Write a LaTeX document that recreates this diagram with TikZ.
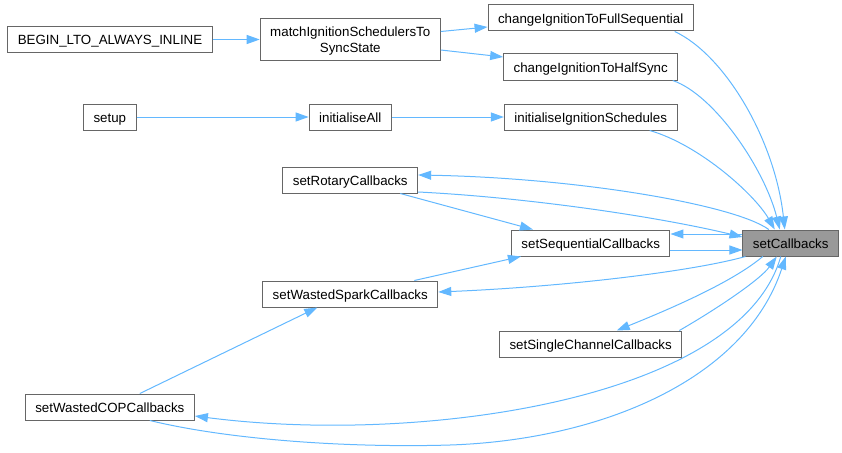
\documentclass[tikz,border=0pt]{standalone}
\usepackage{fontspec}
\setmainfont{Liberation Sans}
\usetikzlibrary{arrows.meta,positioning}
\definecolor{edgeblue}{HTML}{63B8FF}
\definecolor{nodegray}{HTML}{666666}
\definecolor{nodefill}{HTML}{999999}
\tikzstyle{func}=[draw=nodegray, fill=white, line width=1pt, minimum height=26pt, inner xsep=10pt, inner ysep=4pt, text height=12.5pt, text depth=2.1pt]
\tikzstyle{current}=[func, fill=nodefill]
\tikzstyle{arrow}=[draw=edgeblue, line width=1pt, -{Triangle[length=13pt,width=9pt]}]

\begin{document}
\begin{tikzpicture}[x=1pt, y=-1pt, font=\fontsize{13.33}{16}\selectfont]
\useasboundingbox (0,0) rectangle (842,452);

\node [func] (lto) at (110,39.5) {BEGIN\_LTO\_ALWAYS\_INLINE};
\node [func, align=center, minimum height=41pt, text height=28.3pt] (match) [right=47pt of lto] {matchIgnitionSchedulersTo\\SyncState};
\node [func] (initall) [below=43pt of match] {initialiseAll};
\node [func] (setup) [left=172pt of initall] {setup};
\node [func] (initign) [right=112pt of initall] {initialiseIgnitionSchedules};
\node [func] (halfsync) [above=23pt of initign] {changeIgnitionToHalfSync};
\node [func] (fullseq) [above=22pt of halfsync] {changeIgnitionToFullSequential};
\node [func] (rotary) [below=36pt of initall] {setRotaryCallbacks};
\node [func] (sequential) [below=99pt of initign] {setSequentialCallbacks};
\node [current] (callbacks) [right=72pt of sequential] {setCallbacks};
\node [func] (spark) [below=87pt of rotary] {setWastedSparkCallbacks};
\node [func] (single) [below=74pt of sequential] {setSingleChannelCallbacks};
\node [func] (cop) [below=263pt of setup] {setWastedCOPCallbacks};

\draw [arrow] (lto) -- (match);
\draw [arrow] ([yshift=8pt]match.east) -- ([yshift=-9pt]fullseq.west);
\draw [arrow] ([yshift=-10.5pt]match.east) -- ([yshift=10pt]halfsync.west);
\draw [arrow] (setup) -- (initall);
\draw [arrow] (initall) -- (initign);
\draw [arrow] ([xshift=84pt]fullseq.south) .. controls (725,55) and (775,140) .. ([xshift=-6pt]callbacks.north);
\draw [arrow] ([xshift=82pt]halfsync.south) .. controls (715,95) and (765,170) .. ([xshift=-11pt]callbacks.north);
\draw [arrow] ([xshift=59pt]initign.south) .. controls (700,145) and (755,195) .. ([xshift=-16pt]callbacks.north);
\draw [arrow] ([xshift=-22pt]callbacks.north) .. controls (735,205) and (580,178) .. ([yshift=5pt]rotary.east);
\draw [arrow] ([yshift=-12pt]rotary.east) .. controls (520,197) and (650,215) .. ([yshift=6pt]callbacks.west);
\draw [arrow] ([xshift=50pt]rotary.south) -- ([xshift=22pt]sequential.north west);
\draw [arrow] ([yshift=9pt]callbacks.west) -- ([yshift=9pt]sequential.east);
\draw [arrow] ([yshift=-7pt]sequential.east) -- ([yshift=-7pt]callbacks.west);
\draw [arrow] ([xshift=-24pt]spark.north east) -- ([xshift=10pt]sequential.south west);
\draw [arrow] ([xshift=3pt]callbacks.south west) .. controls (690,272) and (560,287) .. ([yshift=2pt]spark.east);
\draw [arrow] ([xshift=-28pt]callbacks.south) .. controls (735,280) and (680,305) .. ([xshift=26pt]single.north);
\draw [arrow] ([xshift=-3pt]single.north east) .. controls (715,310) and (760,280) .. ([xshift=-14pt]callbacks.south);
\draw [arrow] ([xshift=-10pt]callbacks.south) .. controls (740,400) and (420,445) .. ([yshift=-9pt]cop.east);
\draw [arrow] ([xshift=40pt]cop.south) .. controls (230,440) and (350,448) .. (450,445) .. controls (600,440) and (745,380) .. ([xshift=-5pt]callbacks.south);
\draw [arrow] ([xshift=30pt]cop.north) -- ([xshift=-33pt]spark.south);

\end{tikzpicture}
\end{document}
